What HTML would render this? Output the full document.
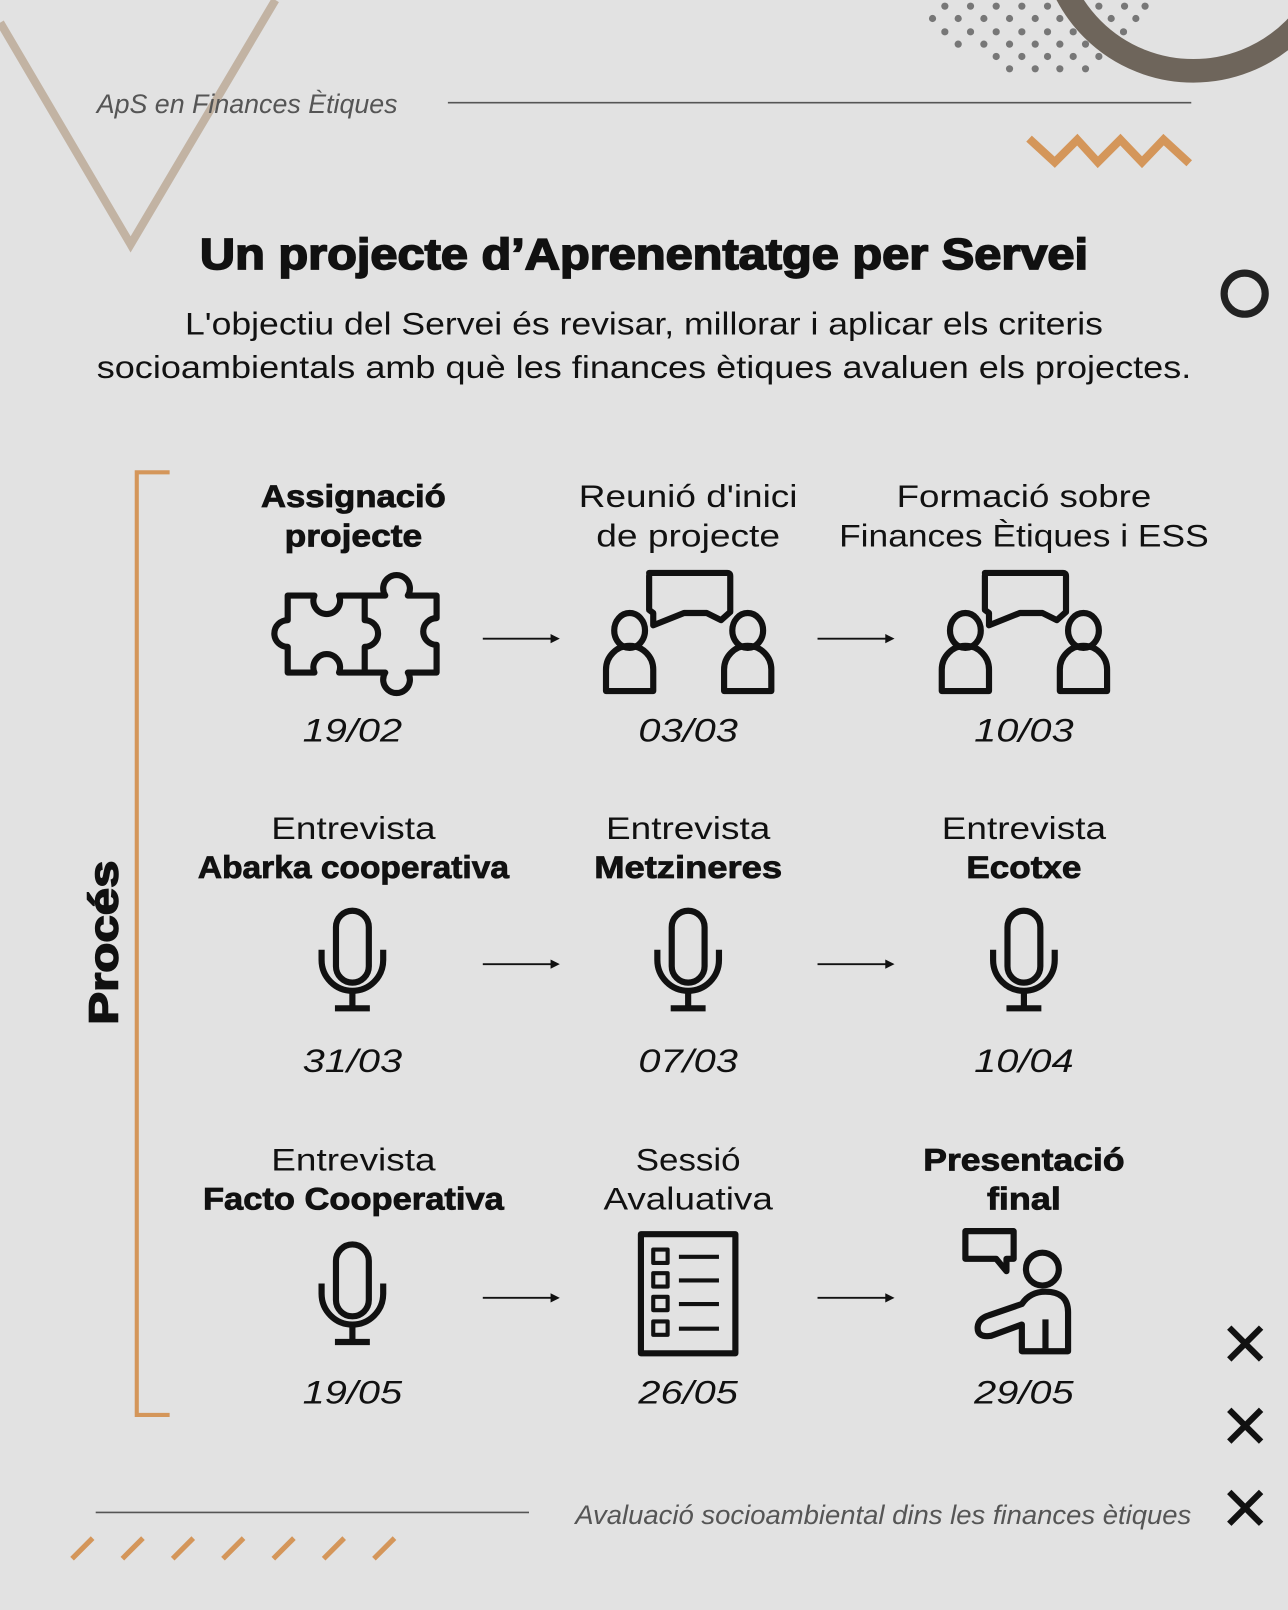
<!DOCTYPE html>
<html><head><meta charset="utf-8"><style>
html,body{margin:0;padding:0;background:#e2e2e2;}
svg{display:block;}
text{font-family:"Liberation Sans",sans-serif;fill:#111;}
.it{font-style:italic;}
.b{font-weight:bold;}
.t{font-size:31px;}
.d{font-size:32px;font-style:italic;}
</style></head><body>
<svg width="1288" height="1610" viewBox="0 0 1254 1568" xmlns="http://www.w3.org/2000/svg">
<rect width="1254" height="1568" fill="#e2e2e2"/>
<polyline points="0,22 127,238 268,0" fill="none" stroke="#c2b3a3" stroke-width="8"/>
<g fill="#777">
<circle cx="920" cy="6" r="3.5"/><circle cx="945" cy="6" r="3.5"/><circle cx="970" cy="6" r="3.5"/><circle cx="995" cy="6" r="3.5"/><circle cx="1020" cy="6" r="3.5"/><circle cx="1045" cy="6" r="3.5"/><circle cx="1070" cy="6" r="3.5"/><circle cx="1095" cy="6" r="3.5"/><circle cx="1115" cy="6" r="3.5"/>
<circle cx="908" cy="18" r="3.5"/><circle cx="933" cy="18" r="3.5"/><circle cx="958" cy="18" r="3.5"/><circle cx="983" cy="18" r="3.5"/><circle cx="1008" cy="18" r="3.5"/><circle cx="1032" cy="18" r="3.5"/><circle cx="1082" cy="18" r="3.5"/><circle cx="1106" cy="18" r="3.5"/>
<circle cx="920" cy="31" r="3.5"/><circle cx="945" cy="31" r="3.5"/><circle cx="970" cy="31" r="3.5"/><circle cx="995" cy="31" r="3.5"/><circle cx="1020" cy="31" r="3.5"/><circle cx="1045" cy="31" r="3.5"/><circle cx="1070" cy="31" r="3.5"/><circle cx="1094" cy="31" r="3.5"/>
<circle cx="933" cy="43" r="3.5"/><circle cx="958" cy="43" r="3.5"/><circle cx="983" cy="43" r="3.5"/><circle cx="1008" cy="43" r="3.5"/><circle cx="1032" cy="43" r="3.5"/><circle cx="1057" cy="43" r="3.5"/>
<circle cx="970" cy="55" r="3.5"/><circle cx="995" cy="55" r="3.5"/><circle cx="1020" cy="55" r="3.5"/><circle cx="1045" cy="55" r="3.5"/><circle cx="1070" cy="55" r="3.5"/>
<circle cx="983" cy="67" r="3.5"/><circle cx="1008" cy="67" r="3.5"/><circle cx="1032" cy="67" r="3.5"/><circle cx="1057" cy="67" r="3.5"/>
</g>
<circle cx="1162" cy="-70" r="139" fill="none" stroke="#6e655b" stroke-width="23"/>
<polyline points="1002,135 1027,158 1049,136 1069,158 1091,136 1112,158 1133,136 1158,159" fill="none" stroke="#d4965a" stroke-width="8"/>
<text x="94" y="110" class="it" font-size="26" style="fill:#555" textLength="293" lengthAdjust="spacingAndGlyphs">ApS en Finances Ètiques</text>
<line x1="436" y1="100" x2="1160" y2="100" stroke="#555" stroke-width="1.5"/>
<text x="627" y="262" text-anchor="middle" font-size="42" class="b" stroke="#111" stroke-width="1.6" textLength="865" lengthAdjust="spacingAndGlyphs">Un projecte d’Aprenentatge per Servei</text>
<text x="627" y="326" text-anchor="middle" font-size="31" textLength="894" lengthAdjust="spacingAndGlyphs">L'objectiu del Servei és revisar, millorar i aplicar els criteris</text>
<text x="627" y="368" text-anchor="middle" font-size="31" textLength="1066" lengthAdjust="spacingAndGlyphs">socioambientals amb què les finances ètiques avaluen els projectes.</text>
<circle cx="1212" cy="286" r="20" fill="none" stroke="#222" stroke-width="7"/>
<polyline points="165,460 133,460 133,1378 165,1378" fill="none" stroke="#d4965a" stroke-width="4"/>
<text transform="translate(114,918) rotate(-90)" text-anchor="middle" font-size="40" class="b" stroke="#111" stroke-width="1.5" textLength="160" lengthAdjust="spacingAndGlyphs">Procés</text>
<g class="t" stroke="#111">
<text x="344" y="494" text-anchor="middle" class="b t" stroke-width="0.8" textLength="180" lengthAdjust="spacingAndGlyphs">Assignació</text>
<text x="344" y="532" text-anchor="middle" class="b t" stroke-width="0.8" textLength="134" lengthAdjust="spacingAndGlyphs">projecte</text>
<text x="670" y="494" text-anchor="middle" class="t" stroke-width="0" textLength="213" lengthAdjust="spacingAndGlyphs">Reunió d'inici</text>
<text x="670" y="532" text-anchor="middle" class="t" stroke-width="0" textLength="179" lengthAdjust="spacingAndGlyphs">de projecte</text>
<text x="997" y="494" text-anchor="middle" class="t" stroke-width="0" textLength="248" lengthAdjust="spacingAndGlyphs">Formació sobre</text>
<text x="997" y="532" text-anchor="middle" class="t" stroke-width="0" textLength="360" lengthAdjust="spacingAndGlyphs">Finances Ètiques i ESS</text>
<text x="344" y="817" text-anchor="middle" class="t" stroke-width="0" textLength="160" lengthAdjust="spacingAndGlyphs">Entrevista</text>
<text x="344" y="855" text-anchor="middle" class="b t" stroke-width="0.8" textLength="303" lengthAdjust="spacingAndGlyphs">Abarka cooperativa</text>
<text x="670" y="817" text-anchor="middle" class="t" stroke-width="0" textLength="160" lengthAdjust="spacingAndGlyphs">Entrevista</text>
<text x="670" y="855" text-anchor="middle" class="b t" stroke-width="0.8" textLength="183" lengthAdjust="spacingAndGlyphs">Metzineres</text>
<text x="997" y="817" text-anchor="middle" class="t" stroke-width="0" textLength="160" lengthAdjust="spacingAndGlyphs">Entrevista</text>
<text x="997" y="855" text-anchor="middle" class="b t" stroke-width="0.8" textLength="112" lengthAdjust="spacingAndGlyphs">Ecotxe</text>
<text x="344" y="1140" text-anchor="middle" class="t" stroke-width="0" textLength="160" lengthAdjust="spacingAndGlyphs">Entrevista</text>
<text x="344" y="1178" text-anchor="middle" class="b t" stroke-width="0.8" textLength="293" lengthAdjust="spacingAndGlyphs">Facto Cooperativa</text>
<text x="670" y="1140" text-anchor="middle" class="t" stroke-width="0" textLength="102" lengthAdjust="spacingAndGlyphs">Sessió</text>
<text x="670" y="1178" text-anchor="middle" class="t" stroke-width="0" textLength="165" lengthAdjust="spacingAndGlyphs">Avaluativa</text>
<text x="997" y="1140" text-anchor="middle" class="b t" stroke-width="0.8" textLength="196" lengthAdjust="spacingAndGlyphs">Presentació</text>
<text x="997" y="1178" text-anchor="middle" class="b t" stroke-width="0.8" textLength="72" lengthAdjust="spacingAndGlyphs">final</text>
</g>
<text x="343" y="722" text-anchor="middle" class="d" textLength="97" lengthAdjust="spacingAndGlyphs">19/02</text>
<text x="670" y="722" text-anchor="middle" class="d" textLength="97" lengthAdjust="spacingAndGlyphs">03/03</text>
<text x="997" y="722" text-anchor="middle" class="d" textLength="97" lengthAdjust="spacingAndGlyphs">10/03</text>
<text x="343" y="1044" text-anchor="middle" class="d" textLength="97" lengthAdjust="spacingAndGlyphs">31/03</text>
<text x="670" y="1044" text-anchor="middle" class="d" textLength="97" lengthAdjust="spacingAndGlyphs">07/03</text>
<text x="997" y="1044" text-anchor="middle" class="d" textLength="97" lengthAdjust="spacingAndGlyphs">10/04</text>
<text x="343" y="1367" text-anchor="middle" class="d" textLength="97" lengthAdjust="spacingAndGlyphs">19/05</text>
<text x="670" y="1367" text-anchor="middle" class="d" textLength="97" lengthAdjust="spacingAndGlyphs">26/05</text>
<text x="997" y="1367" text-anchor="middle" class="d" textLength="97" lengthAdjust="spacingAndGlyphs">29/05</text>
<g stroke="#111" stroke-width="1.8" fill="#111">
<line x1="470" y1="622" x2="538" y2="622"/><polygon points="545,622 536,617.5 536,626.5" stroke="none"/>
<line x1="796" y1="622" x2="864" y2="622"/><polygon points="871,622 862,617.5 862,626.5" stroke="none"/>
<line x1="470" y1="939" x2="538" y2="939"/><polygon points="545,939 536,934.5 536,943.5" stroke="none"/>
<line x1="796" y1="939" x2="864" y2="939"/><polygon points="871,939 862,934.5 862,943.5" stroke="none"/>
<line x1="470" y1="1264" x2="538" y2="1264"/><polygon points="545,1264 536,1259.5 536,1268.5" stroke="none"/>
<line x1="796" y1="1264" x2="864" y2="1264"/><polygon points="871,1264 862,1259.5 862,1268.5" stroke="none"/>
</g>
<g fill="none" stroke="#111" stroke-width="6" stroke-linejoin="round">
<path d="M280,580 H306 A13,13 0 1 0 330,580 H375 A13,13 0 1 1 397,580 H425 V602 A13,13 0 1 0 425,628 V655 H397 A13,13 0 1 1 375,655 H330 A13,13 0 1 0 306,655 H280 V630 A13,13 0 1 1 280,604 Z"/>
<path d="M355,580 V604 A13,13 0 1 1 355,630 V655"/>
<path d="M632,558 H708 Q711,558 711,561 V596 L702,604 L688,597 H666 L636,609 V597 L632,594 V561 Q632,558 635,558 Z"/>
<ellipse cx="613" cy="614" rx="15" ry="17"/>
<path d="M590,673 V652 A23,23 0 0 1 636,652 V673 Z"/>
<ellipse cx="728" cy="614" rx="15" ry="17"/>
<path d="M705,673 V652 A23,23 0 0 1 751,652 V673 Z"/>
<path d="M959,558 H1035 Q1038,558 1038,561 V596 L1029,604 L1015,597 H993 L963,609 V597 L959,594 V561 Q959,558 962,558 Z"/>
<ellipse cx="940" cy="614" rx="15" ry="17"/>
<path d="M917,673 V652 A23,23 0 0 1 963,652 V673 Z"/>
<ellipse cx="1055" cy="614" rx="15" ry="17"/>
<path d="M1032,673 V652 A23,23 0 0 1 1078,652 V673 Z"/>
<g id="mic">
<rect x="327" y="887" width="32" height="70" rx="16"/>
<path d="M313,925 V935 A30,30 0 0 0 373,935 V925"/>
<line x1="343" y1="965" x2="343" y2="982"/>
<line x1="326" y1="982" x2="360" y2="982"/>
</g>
<use href="#mic" x="327" y="0"/>
<use href="#mic" x="654" y="0"/>
<use href="#mic" x="0" y="325"/>
<rect x="624" y="1202" width="92" height="116"/>
<rect x="636" y="1217" width="14" height="13" stroke-width="4"/>
<rect x="636" y="1240" width="14" height="13" stroke-width="4"/>
<rect x="636" y="1263" width="14" height="13" stroke-width="4"/>
<rect x="636" y="1287" width="14" height="13" stroke-width="4"/>
<line x1="661" y1="1224" x2="700" y2="1224" stroke-width="4"/>
<line x1="661" y1="1247" x2="700" y2="1247" stroke-width="4"/>
<line x1="661" y1="1270" x2="700" y2="1270" stroke-width="4"/>
<line x1="661" y1="1294" x2="700" y2="1294" stroke-width="4"/>
<path d="M940,1199 H987 V1226 H980 V1238 L970,1226 H940 Z"/>
<circle cx="1015" cy="1236" r="16"/>
<path d="M995,1316 V1290 L965,1301 Q951,1303 952,1292 Q953,1284 963,1281 L995,1270 Q1003,1258 1018,1258 Q1040,1258 1040,1278 V1316 Z"/>
<line x1="1018" y1="1285" x2="1018" y2="1316"/>
</g>
<g stroke="#111" stroke-width="6">
<path d="M1197,1293 L1228,1324 M1228,1293 L1197,1324"/>
<path d="M1197,1373 L1228,1404 M1228,1373 L1197,1404"/>
<path d="M1197,1453 L1228,1484 M1228,1453 L1197,1484"/>
</g>
<line x1="93" y1="1473" x2="515" y2="1473" stroke="#555" stroke-width="1.5"/>
<text x="1160" y="1484" text-anchor="end" class="it" font-size="26" style="fill:#555" textLength="600" lengthAdjust="spacingAndGlyphs">Avaluació socioambiental dins les finances ètiques</text>
<g stroke="#d4965a" stroke-width="5">
<line x1="70" y1="1518" x2="90" y2="1498"/><line x1="119" y1="1518" x2="139" y2="1498"/><line x1="168" y1="1518" x2="188" y2="1498"/><line x1="217" y1="1518" x2="237" y2="1498"/><line x1="266" y1="1518" x2="286" y2="1498"/><line x1="315" y1="1518" x2="335" y2="1498"/><line x1="364" y1="1518" x2="384" y2="1498"/>
</g>
</svg>
</body></html>
